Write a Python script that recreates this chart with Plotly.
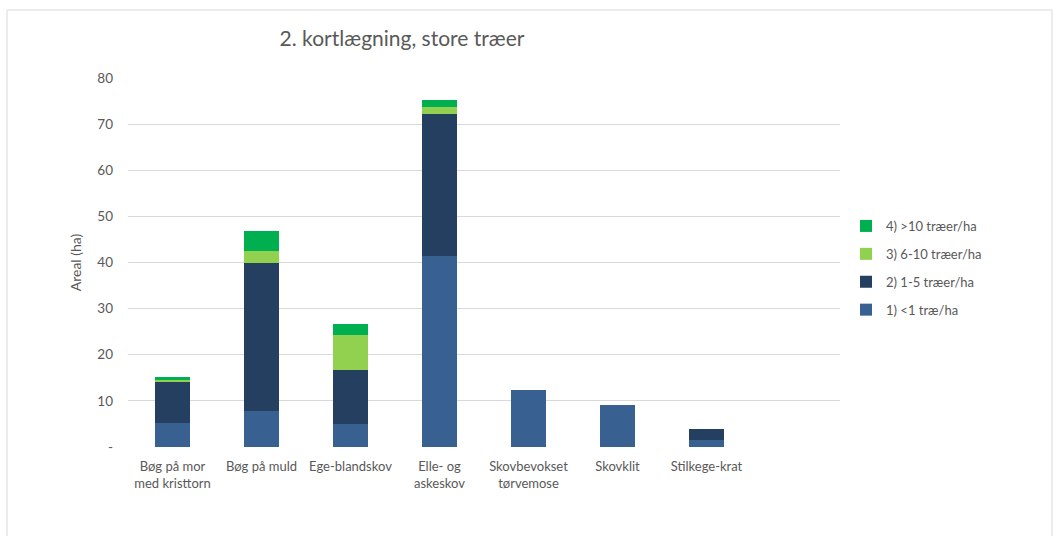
import plotly.graph_objects as go

categories = [
    "Bøg på mor<br>med kristtorn",
    "Bøg på muld",
    "Ege-blandskov",
    "Elle- og<br>askeskov",
    "Skovbevokset<br>tørvemose",
    "Skovklit",
    "Stilkege-krat",
    " ",
]

under_1 = [5.3, 7.9, 4.9, 41.5, 12.3, 9.0, 1.6, None]
from_1_to_5 = [8.7, 32.0, 11.9, 30.8, None, None, 2.4, None]
from_6_to_10 = [0.6, 2.5, 7.5, 1.5, None, None, None, None]
over_10 = [0.6, 4.4, 2.4, 1.4, None, None, None, None]

series_names = ["1) <1 træ/ha", "2) 1-5 træer/ha", "3) 6-10 træer/ha", "4) >10 træer/ha"]
series_values = [under_1, from_1_to_5, from_6_to_10, over_10]
series_colors = ["#386192", "#243f60", "#92d050", "#00b050"]

y_tick_vals = [0, 10, 20, 30, 40, 50, 60, 70, 80]
y_tick_text = ["-", "10", "20", "30", "40", "50", "60", "70", "80"]

fig = go.Figure()
n_series = len(series_names)
for i, (name, vals, color) in enumerate(zip(series_names, series_values, series_colors)):
    fig.add_trace(go.Bar(
        x=list(range(len(categories))),
        y=vals,
        name=name,
        legendgroup=name,
        legendrank=n_series - i,
        marker=dict(color=color, line=dict(width=0)),
    ))

W, H = 1053, 536
L, R, T, B = 128, 1053 - 840, 78, 536 - 447
pw, ph = W - L - R, H - T - B

def px(x):
    return (x - L) / pw

def py(y):
    return (H - B - y) / ph

grey = "#595959"

fig.update_layout(
    width=W,
    height=H,
    margin=dict(l=L, r=R, t=T, b=B),
    paper_bgcolor="white",
    plot_bgcolor="white",
    barmode="stack",
    bargap=0.6,
    font=dict(family="Lato, Carlito, sans-serif", color=grey, size=12),
    title=dict(
        text="2. kortlægning, store træer",
        font=dict(size=21, color=grey),
        x=px(402), xref="paper", xanchor="center",
        y=1 - 39 / H, yref="container", yanchor="middle",
    ),
    xaxis=dict(
        tickmode="array",
        tickvals=list(range(len(categories))),
        ticktext=categories,
        range=[-0.5, len(categories) - 0.5],
        showgrid=False,
        zeroline=False,
        showline=False,
        ticks="",
        ticklabelstandoff=10,
        tickfont=dict(size=13, color=grey),
    ),
    yaxis=dict(
        range=[0, 80],
        tickmode="array",
        tickvals=y_tick_vals,
        ticktext=y_tick_text,
        showgrid=True,
        gridcolor="#d9d9d9",
        gridwidth=1,
        zeroline=False,
        showline=False,
        ticks="",
        ticklabelstandoff=14,
        tickfont=dict(size=13.5, color=grey),
        title=dict(text="Areal (ha)", font=dict(size=14, color=grey), standoff=12),
    ),
    legend=dict(
        x=px(846), xanchor="left",
        y=py(268), yanchor="middle",
        tracegroupgap=8,
        font=dict(size=13, color=grey),
        bgcolor="rgba(0,0,0,0)",
        itemwidth=30,
    ),
    shapes=[
        dict(
            type="rect", xref="paper", yref="paper",
            x0=px(7), x1=px(1052), y0=py(560), y1=py(10),
            line=dict(color="#d9d9d9", width=1),
            fillcolor="rgba(0,0,0,0)", layer="below",
        )
    ],
)

fig.write_html("out.html")
